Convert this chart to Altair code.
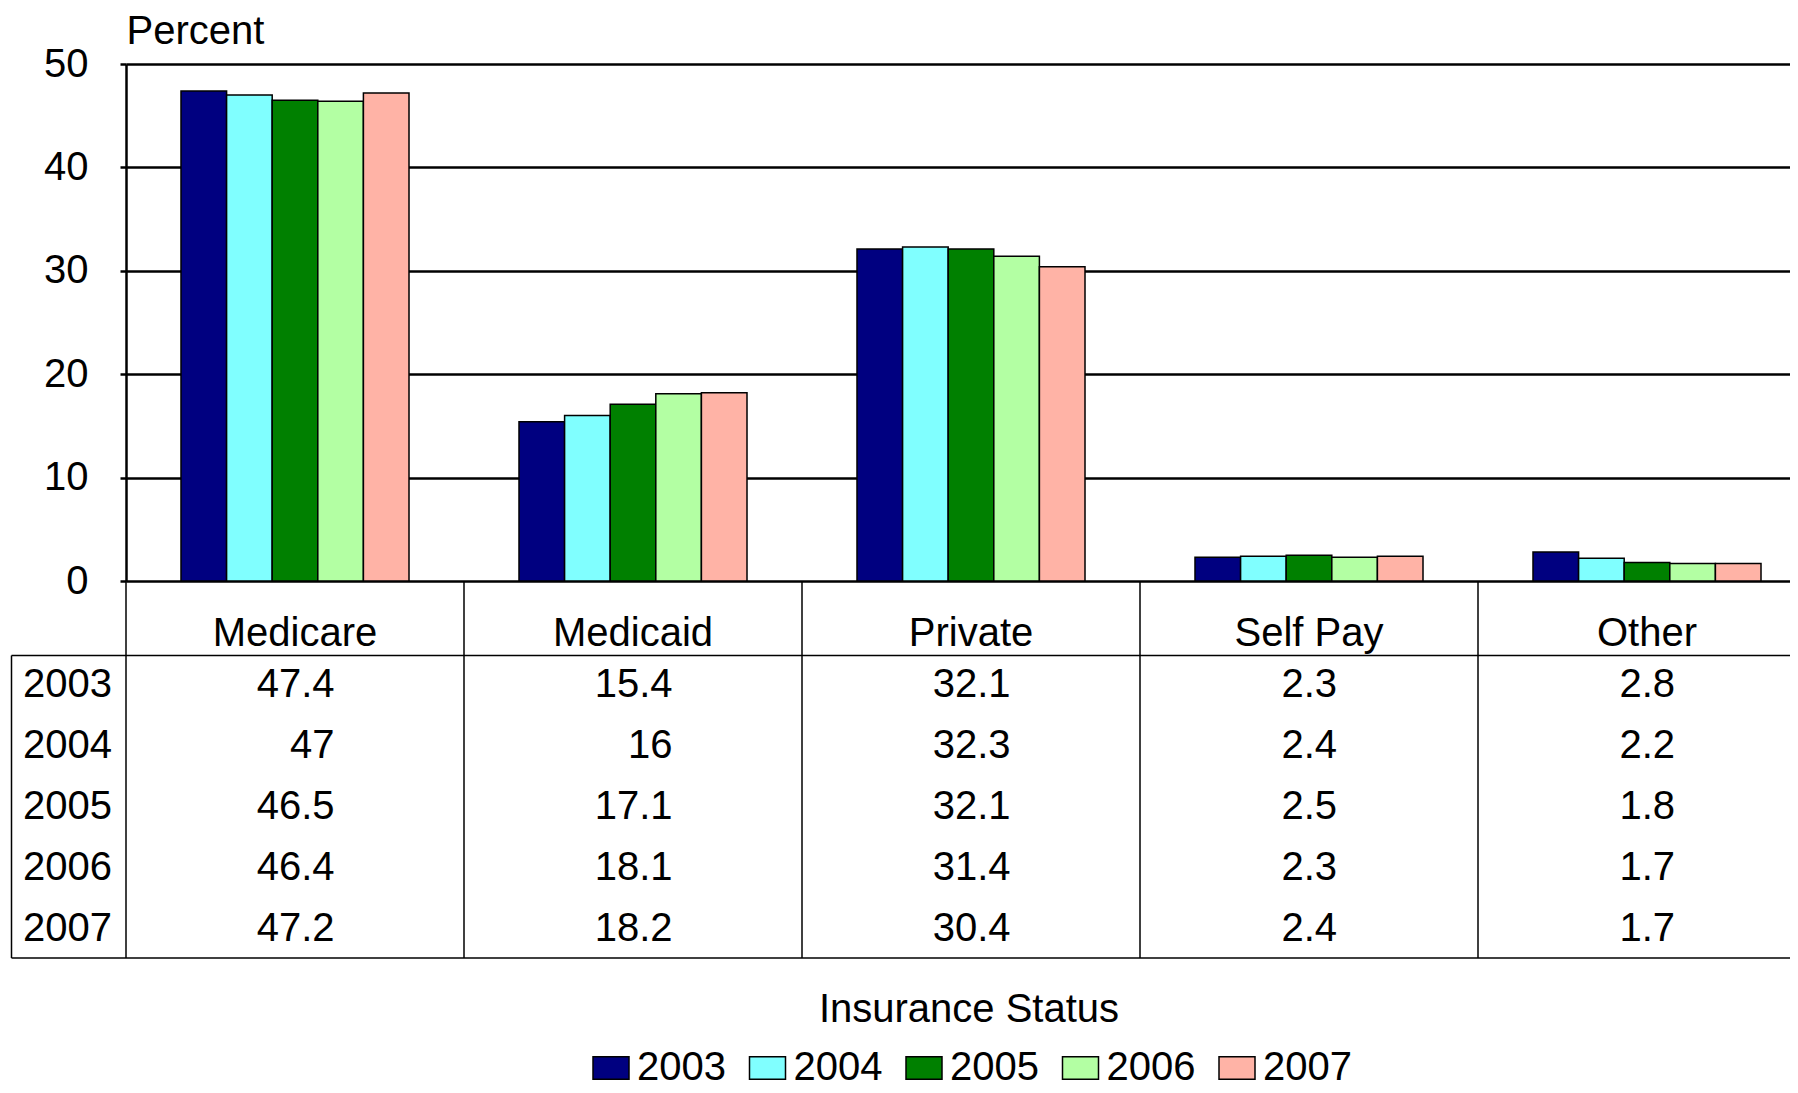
import altair as alt
import pandas as pd

# ---- data ----
categories = ["Medicare", "Medicaid", "Private", "Self Pay", "Other"]
years = ["2003", "2004", "2005", "2006", "2007"]
medicare = [47.4, 47.0, 46.5, 46.4, 47.2]
medicaid = [15.4, 16.0, 17.1, 18.1, 18.2]
private = [32.1, 32.3, 32.1, 31.4, 30.4]
self_pay = [2.3, 2.4, 2.5, 2.3, 2.4]
other = [2.8, 2.2, 1.8, 1.7, 1.7]
year_colors = ["#000080", "#80FFFF", "#008000", "#B3FFA3", "#FFB3A6"]
y_ticks = [0, 10, 20, 30, 40, 50]
y_title = "Percent"
x_title = "Insurance Status"

series = {
    "Medicare": medicare,
    "Medicaid": medicaid,
    "Private": private,
    "Self Pay": self_pay,
    "Other": other,
}
rows = []
for cat in categories:
    for yr, v in zip(years, series[cat]):
        rows.append({"category": cat, "year": yr, "value": v, "label": f"{v:g}"})
df = pd.DataFrame(rows)
df["maxlen"] = df.groupby("category")["label"].transform(lambda s: s.str.len().max())

cat_df = pd.DataFrame({"category": categories})
year_df = pd.DataFrame({"year": years})
one = pd.DataFrame({"k": [0]})

# ---- layout ----
FONT = "Liberation Sans"
FS = 40
W = 1664
H = 517
STEP_RANGE = [0, 1690]
HEAD_BOTTOM = H + 74.5
TABLE_BOTTOM = H + 377
ROW_RANGE = [H + 104, H + 347.5]
LEFT = -114.5
LINE = 1.5
GRID = 2.5


def x_table(**kw):
    return alt.X(
        "category:N",
        scale=alt.Scale(domain=categories, range=STEP_RANGE, paddingInner=0, paddingOuter=0),
        axis=None,
        **kw,
    )


def y_rows():
    return alt.Y(
        "year:O",
        scale=alt.Scale(type="point", domain=years, range=ROW_RANGE, padding=0),
        axis=None,
    )


bars = alt.Chart(df).mark_bar(stroke="black", strokeWidth=1.5).encode(
    x=alt.X(
        "category:N",
        scale=alt.Scale(domain=categories, range=STEP_RANGE, paddingInner=0.3254, paddingOuter=0.1627),
        axis=None,
    ),
    xOffset=alt.XOffset("year:N", scale=alt.Scale(domain=years, paddingInner=0, paddingOuter=0)),
    y=alt.Y(
        "value:Q",
        scale=alt.Scale(domain=[0, 50], nice=False),
        axis=alt.Axis(
            values=y_ticks,
            title=y_title,
            titleAngle=0,
            titleAlign="left",
            titleBaseline="alphabetic",
            titleX=0,
            titleY=-21,
            titleFontSize=FS,
            titleFontWeight="normal",
            titleFont=FONT,
            titleColor="black",
            labelFontSize=FS,
            labelFont=FONT,
            labelColor="black",
            labelPadding=32,
            labelFlush=False,
            labelOverlap=False,
            tickSize=6,
            tickWidth=GRID,
            tickColor="black",
            domainColor="black",
            domainWidth=GRID,
            grid=True,
            gridColor="black",
            gridWidth=GRID,
            gridOpacity=1,
        ),
    ),
    color=alt.Color(
        "year:N",
        scale=alt.Scale(domain=years, range=year_colors),
        legend=alt.Legend(
            title=None,
            orient="none",
            legendX=465,
            legendY=984,
            direction="horizontal",
            symbolType="M-1,-0.62L1,-0.62L1,0.62L-1,0.62Z",
            symbolSize=1296,
            symbolStrokeColor="black",
            symbolStrokeWidth=1.5,
            symbolOpacity=1,
            labelFontSize=FS,
            labelFont=FONT,
            labelColor="black",
            labelOffset=6,
            columnPadding=20.5,
            padding=0,
        ),
    ),
)

vlines = alt.Chart(cat_df).mark_rule(color="black", strokeWidth=LINE).encode(
    x=x_table(bandPosition=0),
    y=alt.value(H),
    y2=alt.value(TABLE_BOTTOM),
)

head_line = alt.Chart(one).mark_rule(color="black", strokeWidth=LINE).encode(
    x=alt.value(LEFT), x2=alt.value(W), y=alt.value(HEAD_BOTTOM)
)
bottom_line = alt.Chart(one).mark_rule(color="black", strokeWidth=LINE).encode(
    x=alt.value(LEFT), x2=alt.value(W), y=alt.value(TABLE_BOTTOM)
)
left_line = alt.Chart(one).mark_rule(color="black", strokeWidth=LINE).encode(
    x=alt.value(LEFT), y=alt.value(HEAD_BOTTOM), y2=alt.value(TABLE_BOTTOM)
)

header = alt.Chart(cat_df).mark_text(
    fontSize=FS, font=FONT, color="black", baseline="middle", align="center"
).encode(x=x_table(), y=alt.value(H + 52.5), text="category:N")

vals_wide = alt.Chart(df).transform_filter("datum.maxlen >= 4").mark_text(
    fontSize=FS, font=FONT, color="black", baseline="middle", align="right", dx=39.5
).encode(x=x_table(), y=y_rows(), text="label:N")

vals_narrow = alt.Chart(df).transform_filter("datum.maxlen < 4").mark_text(
    fontSize=FS, font=FONT, color="black", baseline="middle", align="right", dx=28
).encode(x=x_table(), y=y_rows(), text="label:N")

year_labels = alt.Chart(year_df).mark_text(
    fontSize=FS, font=FONT, color="black", baseline="middle", align="left"
).encode(x=alt.value(-103), y=y_rows(), text="year:N")

xtitle = alt.Chart(one).mark_text(
    fontSize=FS, font=FONT, color="black", baseline="middle", align="center"
).encode(x=alt.value(843), y=alt.value(946), text=alt.value(x_title))

chart = (
    alt.layer(
        bars, vlines, head_line, bottom_line, left_line,
        header, vals_wide, vals_narrow, year_labels, xtitle,
    )
    .resolve_scale(x="independent", y="independent")
    .properties(
        width=W,
        height=H,
        autosize=alt.AutoSizeParams(type="none"),
        padding={"left": 118, "top": 56, "right": 0, "bottom": 504},
    )
    .configure_view(stroke=None)
    .configure(font=FONT)
)

chart.save("out.html", embed_options={"renderer": "svg", "actions": False})
